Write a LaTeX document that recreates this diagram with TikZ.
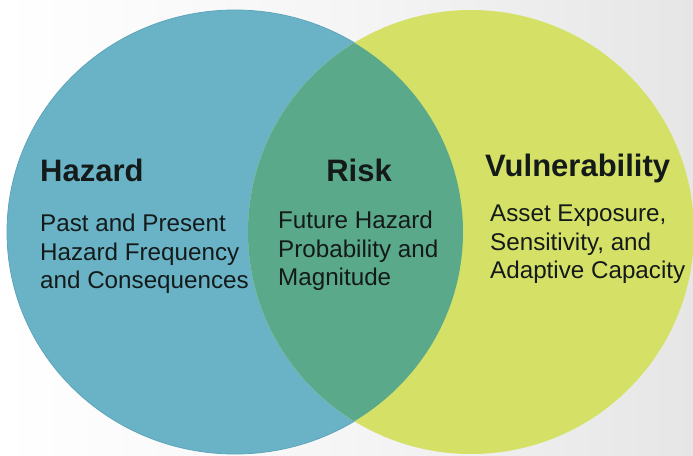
\documentclass[tikz,border=0pt]{standalone}
\usepackage{fontspec}
\setmainfont{Liberation Sans}
\definecolor{hazblue}{HTML}{6AB3C6}
\definecolor{hazedge}{HTML}{5CA6BB}
\definecolor{vulyel}{HTML}{D5E166}
\definecolor{riskgreen}{HTML}{5AA98A}
\definecolor{bggray}{HTML}{E6E6E6}
\definecolor{txt}{HTML}{141A1A}
\tikzset{
  title/.style={inner sep=0pt, text=txt, font=\fontsize{31}{36}\selectfont\bfseries},
  body/.style={inner sep=0pt, text=txt, align=left, font=\fontsize{24.2}{28.5}\selectfont},
}
\begin{document}
\begin{tikzpicture}[x=1pt,y=-1pt]
\useasboundingbox (0,0) rectangle (693,455);
\clip (0,0) rectangle (693,455);
\shade[left color=white, right color=bggray, middle color=white!60!bggray] (0,0) rectangle (693,455);
% circles
\fill[hazblue] (235,232) ellipse [x radius=228, y radius=222];
\draw[hazedge, line width=0.8pt] (235,232) ellipse [x radius=228, y radius=222];
\fill[vulyel] (471,232) ellipse [x radius=223, y radius=222];
\begin{scope}
  \clip (235,232) ellipse [x radius=228, y radius=222];
  \fill[riskgreen] (471,232) ellipse [x radius=223, y radius=222];
\end{scope}
% texts
\node[title, anchor=base west] (hazt) at (40,181) {Hazard};
\node[body, anchor=north west] (hazb) at (40,214) {Past and Present\\Hazard Frequency\\and Consequences};
\node[title, anchor=base] (riskt) at (359,181) {Risk};
\node[body, anchor=north west] (riskb) at (278,211) {Future Hazard\\Probability and\\Magnitude};
\node[title, anchor=base west] (vult) at (485,176) {Vulnerability};
\node[body, anchor=north west] (vulb) at (490,205) {Asset Exposure,\\Sensitivity, and\\Adaptive Capacity};
\end{tikzpicture}
\end{document}
